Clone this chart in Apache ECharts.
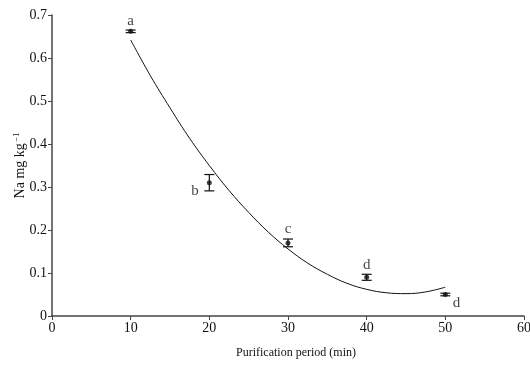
<!DOCTYPE html>
<html>
<head>
<meta charset="utf-8">
<script src="https://cdn.jsdelivr.net/npm/echarts@6/dist/echarts.min.js"></script>
<style>
  html, body { margin: 0; padding: 0; background: #fff; }
  #chart { width: 530px; height: 365px; }
</style>
</head>
<body>
<div id="chart"></div>
<script>
// measured points (min, Na mg/kg) with error half-widths and letters
var periods = [10, 20, 30, 40, 50];
var naValues = [0.662, 0.310, 0.170, 0.090, 0.050];
var naErrors = [0.003, 0.019, 0.009, 0.007, 0.003];
var letters = ['a', 'b', 'c', 'd', 'd'];

// fitted curve
var curveX = [10, 12.5, 15, 17.5, 20, 22.5, 25, 27.5, 30, 32.5, 35, 37.5, 40, 42.5, 45, 47.5, 50];
var curveY = [0.642, 0.559, 0.484, 0.413, 0.350, 0.292, 0.241, 0.195, 0.156, 0.123, 0.097, 0.076, 0.062, 0.054, 0.052, 0.056, 0.067];

var xTicks = [0, 10, 20, 30, 40, 50, 60];
var yTicks = [0, 0.1, 0.2, 0.3, 0.4, 0.5, 0.6, 0.7];

var chart = echarts.init(document.getElementById('chart'));

// where each letter sits relative to its point
var letterPos = [
    {position: 'top', distance: 0},
    {position: 'left', offset: [0, 8], distance: 8},
    {position: 'top', distance: 4},
    {position: 'top', distance: 2},
    {position: 'right', offset: [0, 9], distance: 5}
];

var pointData = periods.map(function (x, i) {
    return {
        value: [x, naValues[i]],
        label: Object.assign({show: true, formatter: letters[i]}, letterPos[i])
    };
});

var errData = periods.map(function (x, i) {
    return [x, naValues[i] - naErrors[i], naValues[i] + naErrors[i]];
});

var axisFont = {fontFamily: 'Liberation Serif', fontSize: 14, color: '#111'};

var option = {
    animation: false,
    grid: {left: 52, right: 6, top: 15, bottom: 49, containLabel: false, outerBoundsMode: 'none'},
    xAxis: {
        type: 'value',
        min: 0, max: 60, interval: 10,
        name: 'Purification period (min)',
        nameLocation: 'middle',
        nameGap: 31,
        nameMoveOverlap: false,
        nameTextStyle: {fontFamily: 'Liberation Serif', fontSize: 12, color: '#111', padding: [0, 0, 0, 16]},
        axisLine: {lineStyle: {color: '#444', width: 1.5}},
        axisTick: {show: true, length: 4, lineStyle: {color: '#444'}},
        axisLabel: Object.assign({margin: 5, formatter: function (v) {
            return xTicks.indexOf(v) >= 0 ? String(v) : '';
        }}, axisFont),
        splitLine: {show: false}
    },
    yAxis: {
        type: 'value',
        min: 0, max: 0.7, interval: 0.1,
        name: '{n|Na mg kg}{s|−1}',
        nameLocation: 'middle',
        nameGap: 24,
        nameMoveOverlap: false,
        nameRotate: 90,
        nameTextStyle: {
            rich: {
                n: {fontFamily: 'Liberation Serif', fontSize: 14, color: '#111'},
                s: {fontFamily: 'Liberation Serif', fontSize: 9, color: '#111', verticalAlign: 'top', padding: [0, 0, 7, 1]}
            }
        },
        axisLine: {show: true, lineStyle: {color: '#444', width: 1.5}},
        axisTick: {show: true, length: 4, lineStyle: {color: '#444'}},
        axisLabel: Object.assign({margin: 5, formatter: function (v) {
            var r = Math.round(v * 10) / 10;
            return r === 0 ? '0' : r.toFixed(1);
        }}, axisFont),
        splitLine: {show: false}
    },
    series: [
        {
            type: 'line',
            data: curveX.map(function (x, i) { return [x, curveY[i]]; }),
            smooth: 0.4,
            showSymbol: false,
            lineStyle: {color: '#111', width: 1},
            z: 2
        },
        {
            type: 'custom',
            data: errData,
            renderItem: function (params, api) {
                var lo = api.coord([api.value(0), api.value(1)]);
                var hi = api.coord([api.value(0), api.value(2)]);
                var w = 5;
                var st = {stroke: '#111', lineWidth: 1.2};
                return {
                    type: 'group',
                    children: [
                        {type: 'line', shape: {x1: lo[0], y1: lo[1], x2: hi[0], y2: hi[1]}, style: st},
                        {type: 'line', shape: {x1: lo[0] - w, y1: lo[1], x2: lo[0] + w, y2: lo[1]}, style: st},
                        {type: 'line', shape: {x1: hi[0] - w, y1: hi[1], x2: hi[0] + w, y2: hi[1]}, style: st}
                    ]
                };
            },
            z: 3
        },
        {
            type: 'scatter',
            data: pointData,
            symbol: 'circle',
            symbolSize: 5,
            itemStyle: {color: '#111'},
            label: {fontFamily: 'Liberation Serif', fontSize: 15, color: '#111'},
            z: 4
        }
    ]
};

chart.setOption(option);
</script>
</body>
</html>
